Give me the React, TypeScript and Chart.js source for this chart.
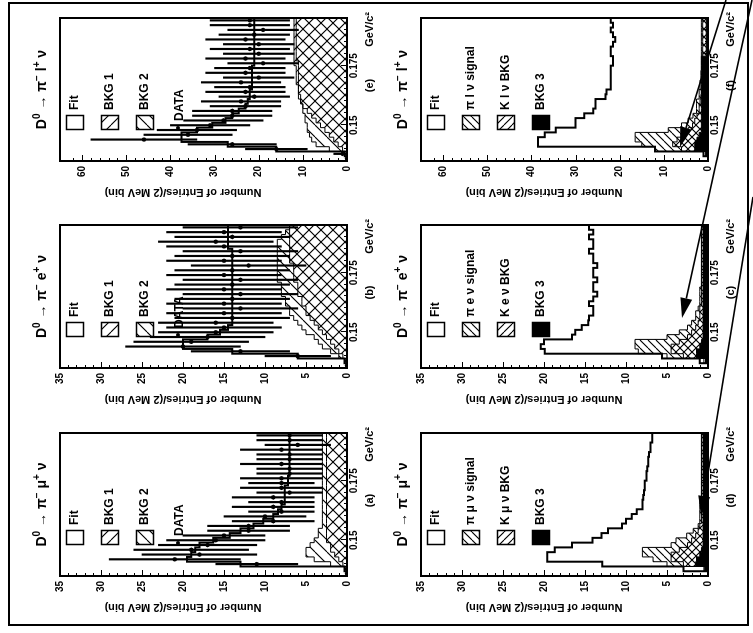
import { useEffect, useRef } from "react";
import { Chart, registerables } from "chart.js";

Chart.register(...registerables);

// ΔM = M(D*) − M(D⁰) binning, GeV/c², 2 MeV bins
const massEdges = [
  0.135, 0.137, 0.139, 0.141, 0.143, 0.145, 0.147, 0.149, 0.151, 0.153, 0.155,
  0.157, 0.159, 0.161, 0.163, 0.165, 0.167, 0.169, 0.171, 0.173, 0.175, 0.177,
  0.179, 0.181, 0.183, 0.185, 0.187, 0.189, 0.191, 0.193, 0.195,
];
const massLabelTicks = [0.15, 0.175];

// (e) D⁰ → π⁻ l⁺ ν : fit, backgrounds, data
const fitE = [0, 0.5, 16, 27, 37.5, 37.5, 34, 30.5, 27.5, 26, 24.5, 23, 22.5, 22, 22, 21.5, 21.5, 21.5, 21.5, 21.5, 21, 21, 21, 21, 21, 21, 21, 21, 21, 21];
const bkg1E = [0, 0, 1, 2, 3, 4, 5, 6, 7, 8, 9, 10, 10.5, 11, 11, 11, 11.5, 11.5, 11.5, 11.5, 12, 12, 12, 12, 12, 12, 12, 12, 12, 12];
const bkg2E = [0, 0, 4, 7, 8, 8.5, 9, 9, 9.5, 9.5, 10, 10, 10.5, 10.5, 11, 11, 11, 11, 11, 11, 11, 11.5, 11.5, 11.5, 11.5, 11.5, 11.5, 11.5, 11.5, 11.5];
const dataE = [0, 1, 16, 26, 46, 36, 34, 31, 28, 26, 26, 23, 24, 21, 23, 22, 24, 20, 23, 22, 19, 23, 20, 22, 20, 23, 21, 19, 22, 22];
const errE = [0, 2, 7, 10, 12, 10, 9, 9, 9, 9, 9, 8, 9, 8, 9, 8, 9, 8, 9, 8, 8, 9, 8, 9, 8, 9, 8, 8, 9, 9];

// (b) D⁰ → π⁻ e⁺ ν
const fitB = [0, 0.3, 6, 14, 20, 20, 17, 15.5, 14.5, 14, 14, 14, 14, 14, 14, 14, 14, 14, 14, 14, 14, 14, 14, 14, 14, 14.5, 14.5, 14.5, 14.5, 14.5];
const bkg1B = [0, 0, 0.5, 1, 1.5, 2, 2.5, 3, 3.5, 4, 4.5, 5, 5, 5.5, 5.5, 6, 6, 6, 6.5, 6.5, 6.5, 6.5, 7, 7, 7, 7, 7, 7, 7, 7];
const bkg2B = [0, 0, 1, 2, 3, 3.5, 4, 5, 5.5, 6, 6.5, 7, 7, 7.5, 7.5, 8, 8, 8, 8.5, 8.5, 8.5, 8.5, 8.5, 8.5, 8.5, 8.5, 8.5, 8, 7.5, 7];
const dataB = [0, 0, 6, 13, 20, 19, 17, 16, 15, 16, 14, 15, 13, 15, 14, 13, 15, 14, 13, 15, 14, 12, 15, 14, 13, 15, 16, 14, 15, 13];
const errB = [0, 0, 4, 6, 7, 7, 7, 7, 7, 7, 7, 7, 7, 7, 7, 7, 7, 7, 7, 7, 7, 7, 7, 7, 7, 7, 7, 7, 7, 7];

// (a) D⁰ → π⁻ μ⁺ ν
const fitA = [0, 0.3, 13, 19.5, 19, 18.5, 18, 16.3, 14.3, 13, 11.4, 10.2, 9, 8.4, 8, 7.6, 7.6, 7.6, 7.6, 7.2, 7.2, 7, 7, 7, 7, 7, 7, 7, 7, 7];
const bkg1A = [0, 0, 0.5, 1, 1.5, 2, 2, 2.5, 2.5, 2.5, 2.5, 2.5, 2.5, 2.5, 2.5, 2.5, 2.5, 2.5, 2.5, 2.5, 2.5, 2.5, 2.5, 2.5, 2.5, 2.5, 2.5, 2.5, 2.5, 2.5];
const bkg2A = [0, 0, 2, 4, 5, 5, 4.5, 4, 3.5, 3.5, 3, 3, 3, 3, 3, 3, 3, 3, 3, 3, 3, 3, 3, 3, 3, 3, 3, 3, 3, 3];
const dataA = [0, 0, 11, 21, 18, 19, 17, 16, 15, 12, 12, 9, 10, 8, 9, 8, 9, 7, 8, 8, 8, 7, 7, 8, 7, 7, 8, 6, 7, 7];
const errA = [0, 0, 5, 8, 7, 7, 6, 6, 5, 5, 5, 5, 5, 4, 5, 4, 5, 4, 5, 4, 5, 4, 4, 5, 4, 4, 5, 4, 4, 4];

// (f) D⁰ → π⁻ l⁺ ν : fit and its components
const fitF = [0, 1, 12, 38.5, 38.5, 37, 34.5, 30, 30, 28, 26, 25.5, 25.5, 23.2, 23, 22, 22, 22, 22, 22, 21.5, 21.5, 22, 22, 21.5, 21, 21.5, 22, 21.5, 22];
const sigF = [0, 0.5, 12, 15, 16.5, 16.5, 9, 6, 4.5, 3.4, 2.6, 2.6, 2.6, 2, 2, 1.8, 1.8, 1.6, 1.6, 1.5, 1.5, 1.5, 1.5, 1.5, 1.5, 1.5, 1.5, 1.5, 1.5, 1.5];
const kF = [0, 0.3, 6, 8, 7, 6, 4.5, 3.5, 3, 2.5, 2, 2, 1.8, 1.6, 1.5, 1.4, 1.3, 1.2, 1.2, 1.2, 1.2, 1.2, 1.2, 1.2, 1.2, 1.2, 1.2, 1.2, 1.2, 1.2];
const b3F = [0, 0.5, 3, 3, 2.5, 2, 1.5, 1.5, 1.5, 1.5, 1.5, 1.5, 1.5, 1.5, 1.5, 1.5, 1.5, 1.5, 1.5, 1.5, 1.5, 1.5, 0.4, 0.4, 0.4, 0.4, 0.4, 0.4, 0.4, 0.4];

// (c) D⁰ → π⁻ e⁺ ν
const fitC = [0, 1, 5.6, 19.9, 20.4, 20, 16.6, 16.2, 15.4, 14.6, 14.5, 14, 14, 14.5, 14, 13.5, 14, 14, 13.5, 14, 14, 13.5, 14, 14, 14.5, 14, 14, 14.5, 14, 14.5];
const sigC = [0, 0.5, 5, 8.5, 8.9, 8.9, 5, 3.5, 2.5, 2, 1.5, 1.5, 1.2, 1, 1, 1, 1, 0.8, 0.8, 0.8, 0.8, 0.8, 0.8, 0.8, 0.8, 0.8, 0.8, 0.8, 0.8, 0.8];
const kC = [0, 0.3, 3, 4.5, 4.5, 3.5, 2.5, 2, 1.5, 1.2, 1, 1, 1, 0.8, 0.8, 0.8, 0.8, 0.8, 0.8, 0.8, 0.8, 0.8, 0.8, 0.8, 0.8, 0.8, 0.8, 0.8, 0.8, 0.8];
const b3C = [0, 0.3, 1.4, 1.4, 1, 0.8, 0.6, 0.6, 0.6, 0.6, 0.6, 0.6, 0.6, 0.6, 0.6, 0.6, 0.6, 0.6, 0.6, 0.6, 0.6, 0.6, 0.6, 0.6, 0.6, 0.6, 0.6, 0.6, 0.6, 0.6];

// (d) D⁰ → π⁻ μ⁺ ν
const fitD = [0, 3, 12.9, 19.6, 19.6, 18.7, 16.6, 14.1, 13, 12.2, 10.5, 10, 9.3, 8.7, 8, 8, 7.9, 7.8, 7.7, 7.7, 7.5, 7.5, 7.4, 7.3, 7.3, 7.2, 7, 7, 6.8, 6.8];
const sigD = [0, 0.5, 5, 6.7, 8, 8, 4.5, 3.9, 2.6, 1.8, 1.2, 1, 1, 1, 1, 1, 0.8, 0.8, 0.8, 0.8, 0.8, 0.8, 0.8, 0.8, 0.8, 0.8, 0.8, 0.8, 0.8, 0.8];
const kD = [0, 0.3, 3, 4.5, 4.5, 3.5, 2.5, 2, 1.5, 1.2, 1, 0.8, 0.8, 0.8, 0.8, 0.8, 0.8, 0.8, 0.8, 0.8, 0.8, 0.8, 0.8, 0.8, 0.8, 0.8, 0.8, 0.8, 0.8, 0.8];
const b3D = [0, 0.4, 1.5, 1.4, 1, 0.8, 0.6, 0.6, 0.6, 0.6, 0.6, 0.6, 0.6, 0.6, 0.6, 0.6, 0.6, 0.6, 0.6, 0.6, 0.6, 0.6, 0.6, 0.6, 0.6, 0.6, 0.6, 0.6, 0.6, 0.6];

type Seg = [string, boolean];

interface PanelSpec {
  key: string;
  kind: "data" | "signal";
  letter: string;
  title: Seg[];
  legend: string[];
  yMax: number;
  yLabelStep: number;
  yMinorStep: number;
  left: number;
  top: number;
  s: number[][];
}

const titlePiLNu: Seg[] = [["D", false], ["0", true], [" → π", false], ["−", true], [" l", false], ["+", true], [" ν", false]];
const titlePiENu: Seg[] = [["D", false], ["0", true], [" → π", false], ["−", true], [" e", false], ["+", true], [" ν", false]];
const titlePiMuNu: Seg[] = [["D", false], ["0", true], [" → π", false], ["−", true], [" μ", false], ["+", true], [" ν", false]];

// Figure is laid out upright and turned a quarter turn as a whole
const FIG_W = 633;
const FIG_H = 753;
const PLOT_W = 143;
const PLOT_H = 287;
const PAD_L = 60;
const PAD_T = 45;
const PAD_R = 45;
const PAD_B = 40;

const panels: PanelSpec[] = [
  { key: "a", kind: "data", letter: "(a)", title: titlePiMuNu, legend: ["Fit", "BKG 1", "BKG 2", "DATA"], yMax: 35, yLabelStep: 5, yMinorStep: 1, left: 57, top: 60, s: [fitA, bkg1A, bkg2A, dataA, errA] },
  { key: "b", kind: "data", letter: "(b)", title: titlePiENu, legend: ["Fit", "BKG 1", "BKG 2", "DATA"], yMax: 35, yLabelStep: 5, yMinorStep: 1, left: 265, top: 60, s: [fitB, bkg1B, bkg2B, dataB, errB] },
  { key: "e", kind: "data", letter: "(e)", title: titlePiLNu, legend: ["Fit", "BKG 1", "BKG 2", "DATA"], yMax: 65, yLabelStep: 10, yMinorStep: 2, left: 472, top: 60, s: [fitE, bkg1E, bkg2E, dataE, errE] },
  { key: "d", kind: "signal", letter: "(d)", title: titlePiMuNu, legend: ["Fit", "π μ ν signal", "K μ ν BKG", "BKG 3"], yMax: 35, yLabelStep: 5, yMinorStep: 1, left: 57, top: 421, s: [fitD, sigD, kD, b3D] },
  { key: "c", kind: "signal", letter: "(c)", title: titlePiENu, legend: ["Fit", "π e ν signal", "K e ν BKG", "BKG 3"], yMax: 35, yLabelStep: 5, yMinorStep: 1, left: 265, top: 421, s: [fitC, sigC, kC, b3C] },
  { key: "f", kind: "signal", letter: "(f)", title: titlePiLNu, legend: ["Fit", "π l ν signal", "K l ν BKG", "BKG 3"], yMax: 65, yLabelStep: 10, yMinorStep: 2, left: 472, top: 421, s: [fitF, sigF, kF, b3F] },
];

const FONT = "Arial, 'Liberation Sans', sans-serif";

function makeHatch(ctx: CanvasRenderingContext2D, dir: "up" | "down", size: number) {
  const tile = document.createElement("canvas");
  tile.width = size;
  tile.height = size;
  const g = tile.getContext("2d")!;
  g.strokeStyle = "#000";
  g.lineWidth = 1.2;
  g.beginPath();
  for (const k of [-1, 0, 1]) {
    if (dir === "down") {
      g.moveTo(k * size, 0);
      g.lineTo(k * size + size, size);
    } else {
      g.moveTo(k * size, size);
      g.lineTo(k * size + size, 0);
    }
  }
  g.stroke();
  return ctx.createPattern(tile, "repeat")!;
}

// histogram outline points: value held across each bin
const stepPoints = (vals: number[]) =>
  massEdges.map((x, i) => ({ x, y: vals[Math.min(i, vals.length - 1)] }));
const centers = massEdges.slice(0, -1).map((e, i) => (e + massEdges[i + 1]) / 2);

function drawRich(ctx: CanvasRenderingContext2D, segs: Seg[], cx: number, base: number, size: number) {
  const big = `bold ${size}px ${FONT}`;
  const small = `bold ${Math.round(size * 0.68)}px ${FONT}`;
  let w = 0;
  for (const [t, sup] of segs) {
    ctx.font = sup ? small : big;
    w += ctx.measureText(t).width;
  }
  let x = cx - w / 2;
  ctx.textAlign = "left";
  ctx.textBaseline = "alphabetic";
  for (const [t, sup] of segs) {
    ctx.font = sup ? small : big;
    ctx.fillText(t, x, sup ? base - size * 0.42 : base);
    x += ctx.measureText(t).width;
  }
}

function makeDecor(spec: PanelSpec, pats: { up: CanvasPattern; down: CanvasPattern }) {
  return {
    id: "panelDecor",
    afterDraw(chart: Chart) {
      const { ctx, chartArea: a } = chart;
      const xs = chart.scales.x;
      const ys = chart.scales.y;
      ctx.save();
      ctx.strokeStyle = "#000";
      ctx.fillStyle = "#000";

      // inward tick marks
      ctx.lineWidth = 1;
      ctx.beginPath();
      for (const t of ys.ticks) {
        const y = Math.round(ys.getPixelForValue(t.value)) + 0.5;
        const len = Math.abs(t.value % spec.yLabelStep) < 1e-6 ? 6 : 3;
        ctx.moveTo(a.left, y);
        ctx.lineTo(a.left + len, y);
      }
      for (const t of xs.ticks) {
        const x = Math.round(xs.getPixelForValue(t.value)) + 0.5;
        const major = massLabelTicks.some((m) => Math.abs(m - t.value) < 1e-7);
        ctx.moveTo(x, a.bottom);
        ctx.lineTo(x, a.bottom - (major ? 6 : 3));
      }
      ctx.stroke();

      // frame
      ctx.lineWidth = 2;
      ctx.strokeRect(a.left, a.top, a.right - a.left, a.bottom - a.top);

      // decay title
      drawRich(ctx, spec.title, (a.left + a.right) / 2, a.top - 14, 14);

      // value axis title
      ctx.save();
      ctx.translate(a.left - 31, a.top + 123);
      ctx.rotate(-Math.PI / 2);
      ctx.font = `bold 11px ${FONT}`;
      ctx.textAlign = "center";
      ctx.textBaseline = "middle";
      ctx.fillText("Number of Entries/(2 MeV bin)", 0, 0);
      ctx.restore();

      // mass axis unit and panel letter
      ctx.font = `bold 11px ${FONT}`;
      ctx.textBaseline = "middle";
      ctx.textAlign = "center";
      ctx.fillText(spec.letter, (a.left + a.right) / 2 + 4, a.bottom + 23);
      ctx.textAlign = "right";
      ctx.fillText("GeV/c²", a.right + 6, a.bottom + 23);

      // legend
      const rows = [15, 50, 85, 120];
      const fills: (string | CanvasPattern | null)[] =
        spec.kind === "data" ? [null, pats.down, pats.up] : [null, pats.up, pats.down, "#000"];
      ctx.font = `bold 12px ${FONT}`;
      ctx.textAlign = "left";
      ctx.textBaseline = "middle";
      spec.legend.forEach((label, i) => {
        const cy = a.top + rows[i];
        if (spec.kind === "data" && i === 3) {
          ctx.beginPath();
          ctx.arc(a.left + 33, cy - 2, 2, 0, Math.PI * 2);
          ctx.fill();
          ctx.fillText(label, a.left + 40, cy);
          return;
        }
        const bx = a.left + 31;
        const by = cy - 9;
        const f = fills[i];
        if (f) {
          ctx.fillStyle = f as any;
          ctx.fillRect(bx, by, 15, 18);
        }
        ctx.fillStyle = "#000";
        ctx.lineWidth = 1.5;
        ctx.strokeRect(bx + 0.5, by + 0.5, 14, 17);
        ctx.fillText(label, a.left + 51, cy);
      });
      ctx.restore();
    },
  };
}

function buildConfig(spec: PanelSpec, canvas: HTMLCanvasElement): any {
  const ctx = canvas.getContext("2d")!;
  const tile = spec.kind === "data" ? 12 : 8;
  const pats = { up: makeHatch(ctx, "up", tile), down: makeHatch(ctx, "down", tile) };
  const hist = (vals: number[], fill: any, order: number, width = 1) => ({
    type: "line",
    data: stepPoints(vals),
    stepped: "before",
    borderColor: "#000",
    borderWidth: width,
    backgroundColor: fill ?? "transparent",
    fill: fill ? "origin" : false,
    pointRadius: 0,
    order,
  });

  let datasets: any[];
  if (spec.kind === "data") {
    const [fit, b1, b2, data, err] = spec.s;
    datasets = [
      hist(b2, pats.up, 6),
      hist(b1, pats.down, 5),
      hist(fit, null, 4, 2),
      {
        type: "bar",
        data: centers.map((x, i) => ({ x, y: [Math.max(0, data[i] - err[i]), data[i] + err[i]] })),
        backgroundColor: "#000",
        borderWidth: 0,
        barThickness: 1.5,
        grouped: false,
        order: 2,
      },
      {
        type: "line",
        data: centers.map((x, i) => ({ x, y: data[i] })),
        showLine: false,
        pointRadius: 2.2,
        pointBackgroundColor: "#000",
        pointBorderWidth: 0,
        order: 1,
      },
    ];
  } else {
    const [fit, sig, kb, b3] = spec.s;
    datasets = [
      hist(kb, pats.down, 6),
      hist(sig, pats.up, 5),
      hist(b3, "#000", 4),
      hist(fit, null, 3, 2),
    ];
  }

  const tickFont = { family: FONT, size: 10, weight: "bold" as const };
  return {
    type: "line",
    data: { datasets },
    plugins: [makeDecor(spec, pats)],
    options: {
      responsive: false,
      animation: false,
      devicePixelRatio: 1,
      events: [],
      layout: { padding: { left: 0, top: PAD_T, right: PAD_R, bottom: 0 } },
      plugins: { legend: { display: false }, tooltip: { enabled: false }, title: { display: false } },
      scales: {
        x: {
          type: "linear",
          min: massEdges[0],
          max: massEdges[massEdges.length - 1],
          offset: false,
          grid: { display: false, drawTicks: false },
          border: { display: false },
          ticks: {
            stepSize: 0.005,
            autoSkip: false,
            maxRotation: 0,
            minRotation: 0,
            padding: 1,
            color: "#000",
            font: tickFont,
            callback: (v: number) => {
              const m = massLabelTicks.find((t) => Math.abs(t - v) < 1e-7);
              return m === undefined ? "" : String(m);
            },
          },
          afterFit: (scale: any) => {
            scale.height = PAD_B;
          },
        },
        y: {
          type: "linear",
          min: 0,
          max: spec.yMax,
          grid: { display: false, drawTicks: false },
          border: { display: false },
          ticks: {
            stepSize: spec.yMinorStep,
            autoSkip: false,
            padding: 5,
            color: "#000",
            font: tickFont,
            callback: (v: number) => (Math.abs(v % spec.yLabelStep) < 1e-6 ? String(v) : ""),
          },
          afterFit: (scale: any) => {
            scale.width = PAD_L;
          },
        },
      },
    },
  };
}

function Panel({ spec }: { spec: PanelSpec }) {
  const ref = useRef<HTMLCanvasElement>(null);
  const w = PAD_L + PLOT_W + PAD_R;
  const h = PAD_T + PLOT_H + PAD_B;
  useEffect(() => {
    const canvas = ref.current!;
    const chart = new Chart(canvas, buildConfig(spec, canvas));
    return () => chart.destroy();
  }, [spec]);
  return (
    <canvas
      ref={ref}
      width={w}
      height={h}
      style={{ position: "absolute", left: spec.left - PAD_L, top: spec.top - PAD_T, width: w, height: h }}
    />
  );
}

// pointer arrows drawn across the figure
const pointers = [
  { x1: 726, y1: 0, x2: 680, y2: 147 },
  { x1: 752, y1: 0, x2: 682, y2: 318 },
  { x1: 753, y1: 197, x2: 701, y2: 516 },
];

function Arrow({ x1, y1, x2, y2 }: { x1: number; y1: number; x2: number; y2: number }) {
  const dx = x2 - x1;
  const dy = y2 - y1;
  const len = Math.hypot(dx, dy);
  const ux = dx / len;
  const uy = dy / len;
  const L = 20;
  const W = 6;
  const bx = x2 - ux * L;
  const by = y2 - uy * L;
  const pts = `${x2},${y2} ${bx - uy * W},${by + ux * W} ${bx + uy * W},${by - ux * W}`;
  return (
    <g>
      <line x1={x1} y1={y1} x2={bx} y2={by} stroke="#000" strokeWidth={1.6} />
      <polygon points={pts} fill="#000" />
    </g>
  );
}

export default function App() {
  return (
    <div style={{ position: "absolute", left: 0, top: 0, width: 753, height: 633, overflow: "hidden", background: "#fff" }}>
      <div
        style={{
          position: "absolute",
          left: 0,
          top: 0,
          width: FIG_W,
          height: FIG_H,
          transformOrigin: "0 0",
          transform: `translate(0px, ${FIG_W}px) rotate(-90deg)`,
        }}
      >
        {panels.map((p) => (
          <Panel key={p.key} spec={p} />
        ))}
      </div>
      <div style={{ position: "absolute", left: 8, top: 2, width: 737, height: 620, border: "2px solid #000" }} />
      <svg width={753} height={633} style={{ position: "absolute", left: 0, top: 0 }}>
        {pointers.map((p, i) => (
          <Arrow key={i} {...p} />
        ))}
      </svg>
    </div>
  );
}
